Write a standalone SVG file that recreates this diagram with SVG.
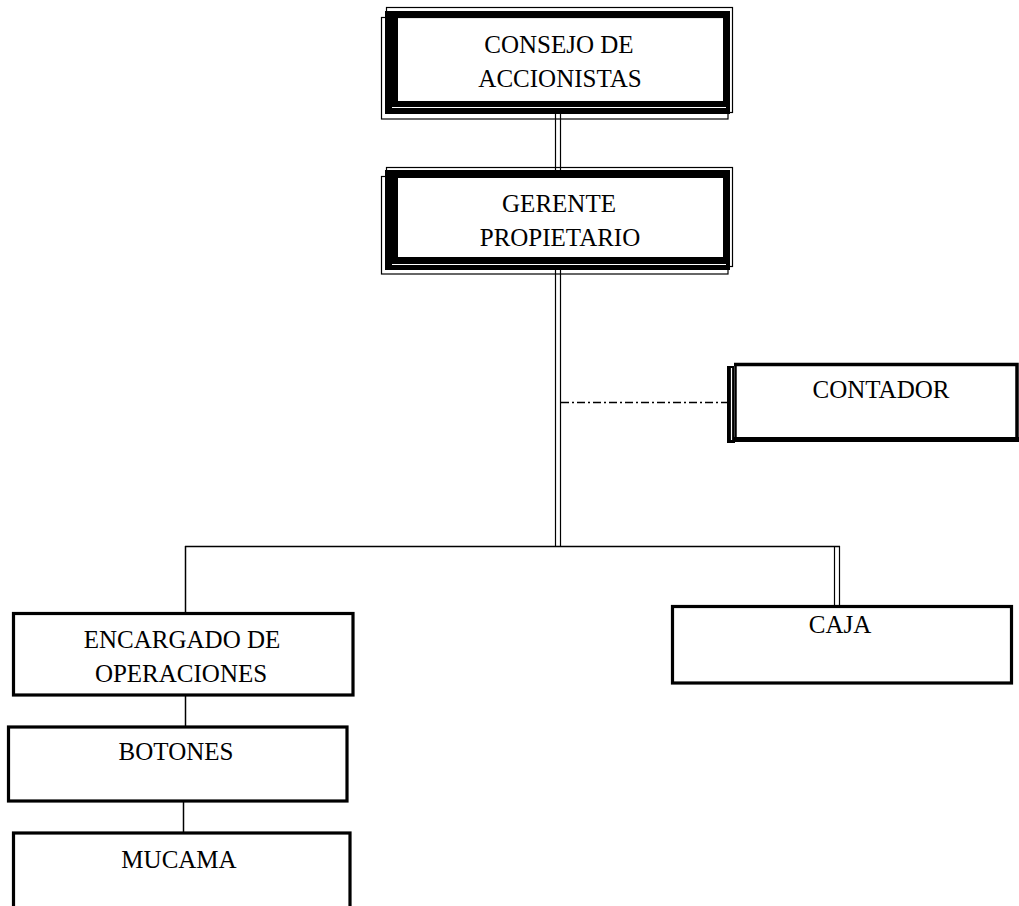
<svg xmlns="http://www.w3.org/2000/svg" width="1019" height="906" viewBox="0 0 1019 906">
<style>
text{font-family:"Liberation Serif","Times New Roman",serif;font-size:25px;fill:#000;text-anchor:middle}
.thin{fill:none;stroke:#000;stroke-width:1.2}
.thick{fill:#000;fill-rule:evenodd}
.wl{stroke:#fff;stroke-width:1.2}
.box{fill:#fff;stroke:#000;stroke-width:3.2}
.ln{fill:none;stroke:#000;stroke-width:1.5}
.dl{fill:none;stroke:#000;stroke-width:1.2}
.dd{fill:none;stroke:#000;stroke-width:1.5;stroke-dasharray:8 3 2 3}
</style>
<rect width="1019" height="906" fill="#fff"/>
<g id="connectors">
<line class="dl" x1="555.5" y1="112" x2="555.5" y2="172"/>
<line class="dl" x1="560.5" y1="112" x2="560.5" y2="172"/>
<line class="dl" x1="555.5" y1="268" x2="555.5" y2="547"/>
<line class="dl" x1="560.5" y1="268" x2="560.5" y2="547"/>
<line class="dd" x1="561" y1="402.5" x2="728" y2="402.5"/>
<line class="ln" x1="185" y1="546.5" x2="840" y2="546.5"/>
<line class="ln" x1="185.5" y1="546" x2="185.5" y2="613"/>
<line class="dl" x1="834.5" y1="546" x2="834.5" y2="606"/>
<line class="dl" x1="839.5" y1="546" x2="839.5" y2="606"/>
<line class="ln" x1="185.5" y1="695" x2="185.5" y2="727"/>
<line class="ln" x1="183.5" y1="801" x2="183.5" y2="833"/>
</g>
<g id="consejo">
<rect class="thin" x="386.5" y="7.5" width="346" height="105"/>
<rect class="thin" x="381.5" y="17.5" width="346.5" height="101.5"/>
<path class="thick" d="M385 11H730V114H385Z M398 18V101H723V18Z"/>
<line class="wl" x1="392" y1="107.5" x2="726" y2="107.5"/>
<text x="559" y="53">CONSEJO DE</text>
<text x="560" y="87">ACCIONISTAS</text>
</g>
<g id="gerente">
<rect class="thin" x="386.5" y="167.5" width="346" height="99"/>
<rect class="thin" x="381.5" y="176.5" width="346.5" height="97.5"/>
<path class="thick" d="M385 170H730V270H385Z M398 178V257H723V178Z"/>
<line class="wl" x1="392" y1="264.5" x2="726" y2="264.5"/>
<text x="559" y="212">GERENTE</text>
<text x="560" y="246">PROPIETARIO</text>
</g>
<g id="contador">
<rect x="727" y="366" width="8" height="77" fill="#000"/>
<line class="wl" x1="731.5" y1="368" x2="731.5" y2="440"/>
<path d="M734 364.5H1017V440H734" fill="#fff" stroke="#000" stroke-width="3.5"/>
<line x1="1017" y1="363" x2="1017" y2="442" stroke="#000" stroke-width="2"/>
<line x1="734" y1="439.5" x2="1019" y2="439.5" stroke="#000" stroke-width="5"/>
<line x1="735.5" y1="363" x2="735.5" y2="442" stroke="#000" stroke-width="2.5"/>
<text x="881" y="398">CONTADOR</text>
</g>
<g id="encargado">
<rect class="box" x="13.5" y="613.5" width="339.5" height="81.5"/>
<text x="182" y="648">ENCARGADO DE</text>
<text x="181" y="682">OPERACIONES</text>
</g>
<g id="caja">
<rect class="box" x="672.5" y="606.5" width="339" height="76.5"/>
<text x="840" y="633">CAJA</text>
</g>
<g id="botones">
<rect class="box" x="8.5" y="727" width="338.5" height="74"/>
<text x="176" y="760">BOTONES</text>
</g>
<g id="mucama">
<rect class="box" x="13.5" y="833" width="336.5" height="80"/>
<text x="179" y="868">MUCAMA</text>
</g>
</svg>
